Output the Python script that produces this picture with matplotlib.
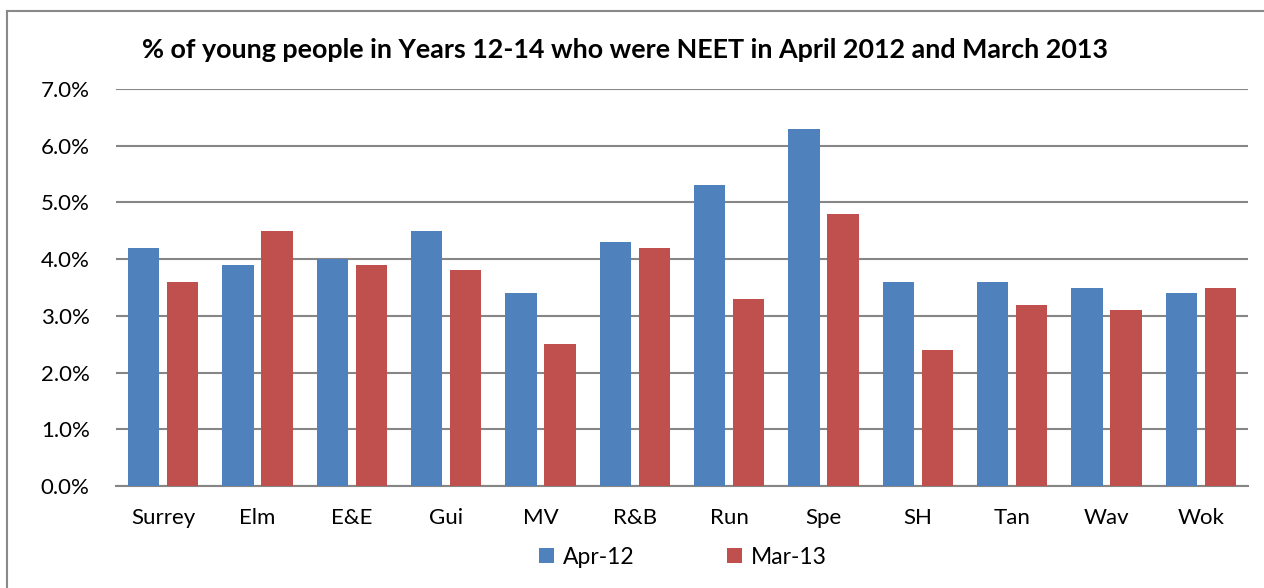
import numpy as np
import matplotlib.pyplot as plt
from matplotlib.lines import Line2D

plt.rcParams["font.family"] = ["Lato", "DejaVu Sans"]

areas = ["Surrey", "Elm", "E&E", "Gui", "MV", "R&B", "Run", "Spe", "SH", "Tan", "Wav", "Wok"]
apr_12 = [4.2, 3.9, 4.0, 4.5, 3.4, 4.3, 5.3, 6.3, 3.6, 3.6, 3.5, 3.4]
mar_13 = [3.6, 4.5, 3.9, 3.8, 2.5, 4.2, 3.3, 4.8, 2.4, 3.2, 3.1, 3.5]
y_ticks = [0, 1, 2, 3, 4, 5, 6, 7]

fig = plt.figure(figsize=(12.64, 5.88), dpi=100)
ax = fig.add_axes([116 / 1264, 1 - 486 / 588, (1248 - 116) / 1264, (486 - 89) / 588])

x = np.arange(len(areas))
w = 0.33
ax.bar(x - 0.207, apr_12, w, color="#4F81BD", label="Apr-12", zorder=3)
ax.bar(x + 0.207, mar_13, w, color="#C0504D", label="Mar-13", zorder=3)

ax.set_xlim(-0.5, len(areas) - 0.5)
ax.set_ylim(0, 7)
ax.set_yticks(y_ticks)
ax.set_yticklabels([f"{v:.1f}%" for v in y_ticks])
ax.set_xticks(x)
ax.set_xticklabels(areas)
ax.tick_params(axis="both", length=0, labelsize=16, colors="black")
ax.tick_params(axis="y", pad=19)
ax.tick_params(axis="x", pad=16)

ax.grid(axis="y", color="#868686", linewidth=1.5, zorder=0)
for s in ["top", "right", "left"]:
    ax.spines[s].set_visible(False)
ax.spines["bottom"].set_color("#868686")
ax.spines["bottom"].set_linewidth(1.5)

fig.text(625 / 1264, 1 - 50 / 588,
         "% of young people in Years 12-14 who were NEET in April 2012 and March 2013",
         ha="center", va="center", fontsize=19.4, fontweight="bold")

fig.legend(loc="center", bbox_to_anchor=(683 / 1264, 1 - 557 / 588), ncol=2,
           frameon=False, fontsize=16.5, handlelength=0.65, handleheight=0.65,
           columnspacing=4.0, handletextpad=0.4)

# chart frame (cropped: only top and left edges visible)
fig.add_artist(Line2D([7 / 1264, 7 / 1264], [0, 1 - 11 / 588], color="#898989", linewidth=1.5))
fig.add_artist(Line2D([7 / 1264, 1], [1 - 11 / 588, 1 - 11 / 588], color="#898989", linewidth=1.5))

fig.savefig("out.png", dpi=100)
plt.close(fig)
